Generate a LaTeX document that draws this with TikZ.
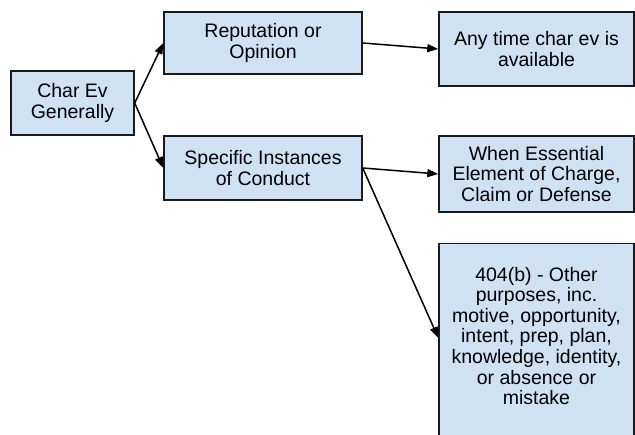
\documentclass[tikz,border=0pt]{standalone}
\usepackage{fontspec}
\setmainfont{Liberation Sans}
\usetikzlibrary{arrows.meta}
\definecolor{boxfill}{HTML}{CFE2F3}
\definecolor{boxline}{HTML}{1A1A1A}
\begin{document}
\begin{tikzpicture}[x=1pt,y=1pt,
  box/.style={draw=boxline, fill=boxfill, line width=1.4pt, inner sep=0pt, align=center,
    font=\fontsize{19.5}{20.8}\selectfont},
  conn/.style={draw=black, line width=1.5pt, -{Triangle[length=11pt,width=8pt]}},
  txt/.style={align=center, inner sep=0pt, font=\fontsize{19.5}{20.6}\selectfont}]
\useasboundingbox (0,0) rectangle (635,-435);
\fill[white] (0,0) rectangle (635,-435);
\node[box, minimum width=123, minimum height=64] (char) at (72.5,-103) {Char Ev\\Generally};
\node[box, minimum width=198, minimum height=62] (rep) at (263,-43) {Reputation or\\Opinion};
\node[box, minimum width=198, minimum height=64] (spec) at (263,-168) {Specific Instances\\of Conduct};
\node[box, minimum width=195, minimum height=74] (any) at (536.5,-49) {Any time char ev is\\available};
\node[box, minimum width=195, minimum height=76] (when) at (536.5,-174) {When Essential\\Element of Charge,\\Claim or Defense};
\node[box, minimum width=195, minimum height=230, anchor=north] (oth) at (536.5,-243) {};
\node[txt] (othtxt) at (536.5,-336) {404(b) - Other\\purposes, inc.\\motive, opportunity,\\intent, prep, plan,\\knowledge, identity,\\or absence or\\mistake};
\draw[conn] (char.east) -- (rep.west);
\draw[conn] (char.east) -- (spec.west);
\draw[conn] (rep.east) -- (any.west);
\draw[conn] (spec.east) -- (when.west);
\draw[conn] (spec.east) -- ([yshift=-95pt]oth.north west);
\end{tikzpicture}
\end{document}
